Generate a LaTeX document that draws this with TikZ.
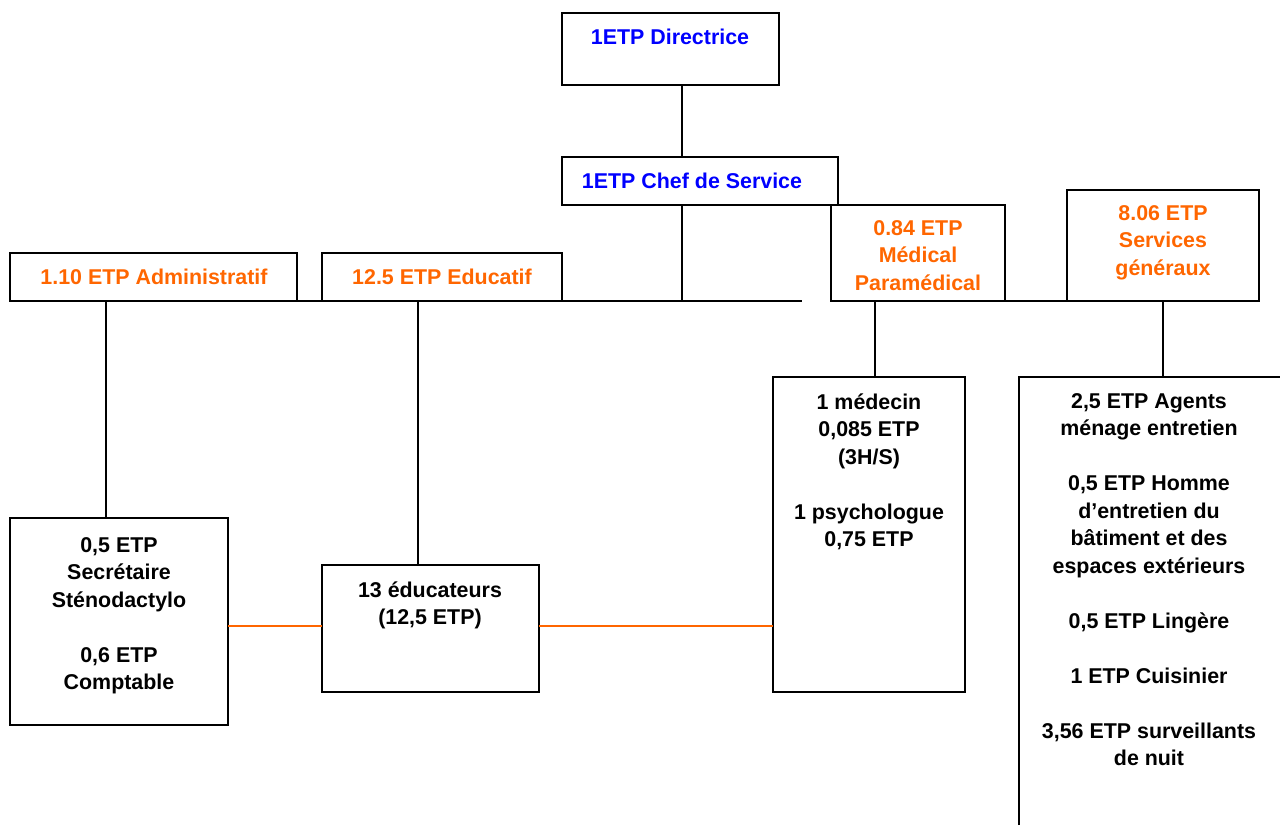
\documentclass[tikz,border=0pt]{standalone}
\usepackage{fontspec}
\setmainfont{Liberation Sans}
\definecolor{orgtxt}{HTML}{FF6600}
\definecolor{bluetxt}{HTML}{0000FF}
\begin{document}
\begin{tikzpicture}[x=0.5pt,y=-0.5pt,
  box/.style={draw, line width=1pt, outer sep=0pt, inner sep=0pt, anchor=north west},
  lbl/.style={anchor=north, inner sep=0pt, align=center, font=\fontsize{10.7}{13.75}\selectfont\bfseries},
  wire/.style={line width=1pt},
  owire/.style={line width=1pt, draw=orgtxt}]
\useasboundingbox (0,0) rectangle (1280,825);
% boxes
\node[box, minimum width=108.5pt, minimum height=36pt] (dir) at (562,13) {};
\node[box, minimum width=138pt, minimum height=24pt] (chef) at (562,157) {};
\node[box, minimum width=143.5pt, minimum height=24pt] (adm) at (10,253) {};
\node[box, minimum width=120pt, minimum height=24pt] (edu) at (322,253) {};
\node[box, minimum width=87pt, minimum height=48pt] (med) at (831,205) {};
\node[box, minimum width=96pt, minimum height=55.5pt] (serv) at (1067,190) {};
\node[box, minimum width=109pt, minimum height=103.5pt] (admc) at (10,518) {};
\node[box, minimum width=108.5pt, minimum height=63.5pt] (educ) at (322,565) {};
\node[box, minimum width=96pt, minimum height=157.5pt] (medc) at (773,377) {};
\coordinate (servcTL) at (1019,377);
\coordinate (servcTR) at (1280,377);
\coordinate (servcBL) at (1019,825);
\draw[wire] (servcBL) -- (servcTL) -- (servcTR);
% labels
\node[lbl, text=bluetxt] (tdir) at (670,29) {1ETP Directrice};
\node[lbl, text=bluetxt] (tchef) at (692,173) {1ETP Chef de Service};
\node[lbl, text=orgtxt] (tadm) at (154,269) {1.10 ETP Administratif};
\node[lbl, text=orgtxt] (tedu) at (442,269) {12.5 ETP Educatif};
\node[lbl, text=orgtxt] (tmed) at (918,220) {0.84 ETP\\Médical\\Paramédical};
\node[lbl, text=orgtxt] (tserv) at (1163,205) {8.06 ETP\\Services\\généraux};
\node[lbl] (tadmc) at (119,537) {0,5 ETP\\Secrétaire\\Sténodactylo\\[13.75pt]0,6 ETP\\Comptable};
\node[lbl] (teduc) at (430,581) {13 éducateurs\\(12,5 ETP)};
\node[lbl] (tmedc) at (869,393) {1 médecin\\0,085 ETP\\(3H/S)\\[13.75pt]1 psychologue\\0,75 ETP};
\node[lbl] (tservc) at (1149,393) {2,5 ETP Agents\\ménage entretien\\[13.75pt]0,5 ETP Homme\\d’entretien du\\bâtiment et des\\espaces extérieurs\\[13.75pt]0,5 ETP Lingère\\[13.75pt]1 ETP Cuisinier\\[13.75pt]3,56 ETP surveillants\\de nuit};
% connector positions
\coordinate (tx) at (682,0);
\coordinate (ax) at (106,0);
\coordinate (ex) at (418,0);
\coordinate (mx) at (875,0);
\coordinate (sx) at (1163,0);
\coordinate (barL) at (202,301);
\coordinate (barR) at (802,301);
\coordinate (bar2L) at (970,301);
\coordinate (oy) at (0,626);
% connectors
\draw[wire] (dir.south -| tx) -- (chef.north -| tx);
\draw[wire] (chef.south -| tx) -- (barL -| tx);
\draw[wire] (barL) -- (barR);
\draw[wire] (bar2L) -- (serv.south west);
\draw[wire] (adm.south -| ax) -- (admc.north -| ax);
\draw[wire] (edu.south -| ex) -- (educ.north -| ex);
\draw[wire] (med.south -| mx) -- (medc.north -| mx);
\draw[wire] (serv.south -| sx) -- (servcTL -| sx);
\draw[owire] (admc.east |- oy) -- (educ.west |- oy);
\draw[owire] (educ.east |- oy) -- (medc.west |- oy);
\end{tikzpicture}
\end{document}
